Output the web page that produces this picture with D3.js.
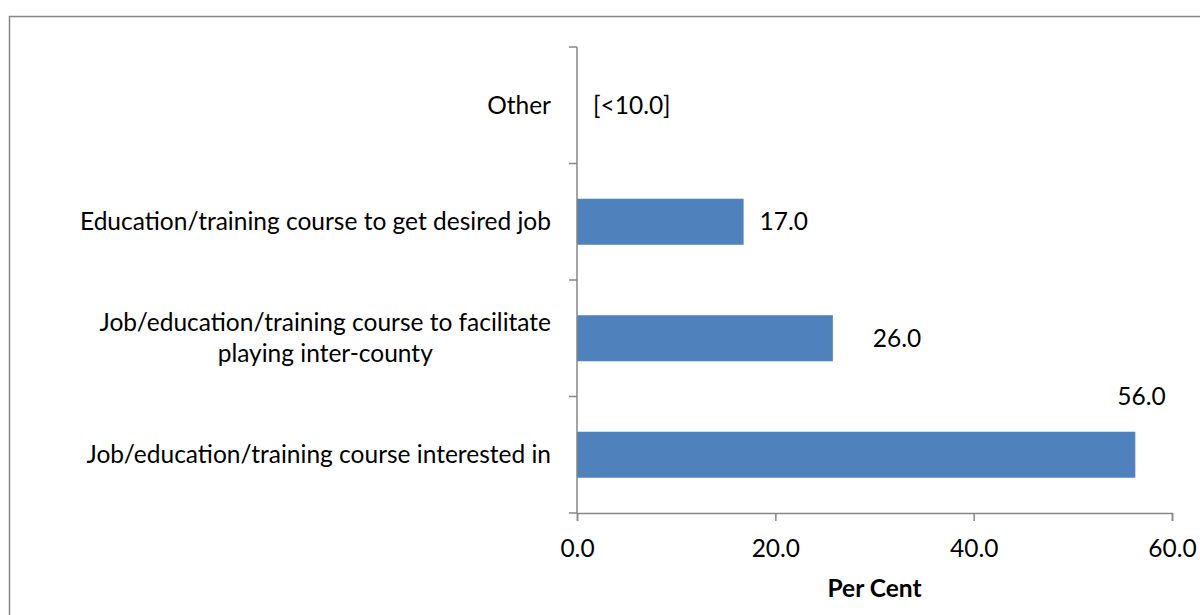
<!DOCTYPE html>
<html>
<head>
<meta charset="utf-8">
<script src="https://cdn.jsdelivr.net/npm/d3@7"></script>
<style>
  body { margin: 0; background: #fff; }
  text { font-family: Lato, "Open Sans", sans-serif; fill: #000; }
</style>
</head>
<body>
<div id="chart"></div>
<script>
// data (listed top to bottom)
const categories = [
    'Other',
    'Education/training course to get desired job',
    'Job/education/training course to facilitate|playing inter-county',
    'Job/education/training course interested in'
];
const values = [0, 16.8, 25.8, 56.3];
const valueLabels = ['[<10.0]', '17.0', '26.0', '56.0'];
const xTicks = [0, 20, 40, 60];

const width = 1200;
const height = 615;
const margin = { top: 47, right: 28, bottom: 102, left: 577 };
const fontSize = '24.5px';

const svg = d3.select('#chart')
    .append('svg')
    .attr('width', width)
    .attr('height', height);

// chart border
svg.append('rect')
    .attr('x', 9.5)
    .attr('y', 16.5)
    .attr('width', 1300)
    .attr('height', 700)
    .attr('fill', 'none')
    .attr('stroke', '#868686')
    .attr('stroke-width', 1.5);

const x = d3.scaleLinear()
    .domain([0, 60])
    .range([margin.left, width - margin.right]);

const y = d3.scaleBand()
    .domain(categories)
    .range([margin.top, height - margin.bottom])
    .paddingInner(0.605)
    .paddingOuter(0.3025);

const band = d3.scaleBand()
    .domain(categories)
    .range([margin.top, height - margin.bottom]);

// bars
svg.selectAll('.bar')
    .data(categories)
    .enter()
    .append('rect')
    .attr('class', 'bar')
    .attr('x', x(0))
    .attr('y', d => y(d))
    .attr('width', (d, i) => x(values[i]) - x(0))
    .attr('height', y.bandwidth())
    .attr('fill', '#4F81BD');

// y axis line + ticks (between categories)
const axisColor = '#868686';
const yTicks = categories.map(c => band(c)).concat([height - margin.bottom]);
svg.append('line')
    .attr('x1', x(0)).attr('x2', x(0))
    .attr('y1', margin.top).attr('y2', height - margin.bottom)
    .attr('stroke', axisColor).attr('stroke-width', 1.5);
svg.selectAll('.ytick')
    .data(yTicks)
    .enter()
    .append('line')
    .attr('x1', x(0) - 8).attr('x2', x(0))
    .attr('y1', d => d).attr('y2', d => d)
    .attr('stroke', axisColor).attr('stroke-width', 1.5);

// x axis
const xAxis = svg.append('g')
    .attr('transform', `translate(0,${height - margin.bottom})`)
    .call(d3.axisBottom(x)
        .tickValues(xTicks)
        .tickSize(8)
        .tickFormat(d3.format('.1f')));
xAxis.select('.domain').attr('stroke', axisColor).attr('stroke-width', 1.5);
xAxis.selectAll('.tick line').attr('stroke', axisColor).attr('stroke-width', 1.5);
xAxis.selectAll('.tick text')
    .attr('y', 35)
    .attr('dy', '0.35em')
    .style('font-size', fontSize)
    .style('font-family', 'Lato, sans-serif')
    .attr('fill', '#000');

svg.append('text')
    .attr('x', (x(0) + x(60)) / 2)
    .attr('y', 588)
    .attr('dy', '0.35em')
    .attr('text-anchor', 'middle')
    .style('font-size', fontSize)
    .style('font-weight', 'bold')
    .text('Per Cent');

// category labels, right aligned, wrapped lines centred on each other
const labelRight = x(0) - 26;
categories.forEach(c => {
    const lines = c.split('|');
    const cy = band(c) + band.bandwidth() / 2;
    const lineH = 31;
    const t = svg.append('text')
        .style('font-size', fontSize);
    lines.forEach((l, j) => {
        t.append('tspan')
            .attr('y', cy + (j - (lines.length - 1) / 2) * lineH)
            .attr('dy', '0.35em')
            .text(l);
    });
    let maxW = 0;
    t.selectAll('tspan').each(function() {
        maxW = Math.max(maxW, this.getComputedTextLength());
    });
    t.attr('text-anchor', 'middle');
    t.selectAll('tspan').attr('x', labelRight - maxW / 2);
});

// value labels (placed like the original: beside, right of, above)
const labelOffsets = [[16, 0], [16, 0], [40, 0], [-18, -58]];
categories.forEach((c, i) => {
    const cy = band(c) + band.bandwidth() / 2;
    svg.append('text')
        .attr('x', x(values[i]) + labelOffsets[i][0])
        .attr('y', cy + labelOffsets[i][1])
        .attr('dy', '0.35em')
        .style('font-size', fontSize)
        .text(valueLabels[i]);
});
</script>
</body>
</html>
